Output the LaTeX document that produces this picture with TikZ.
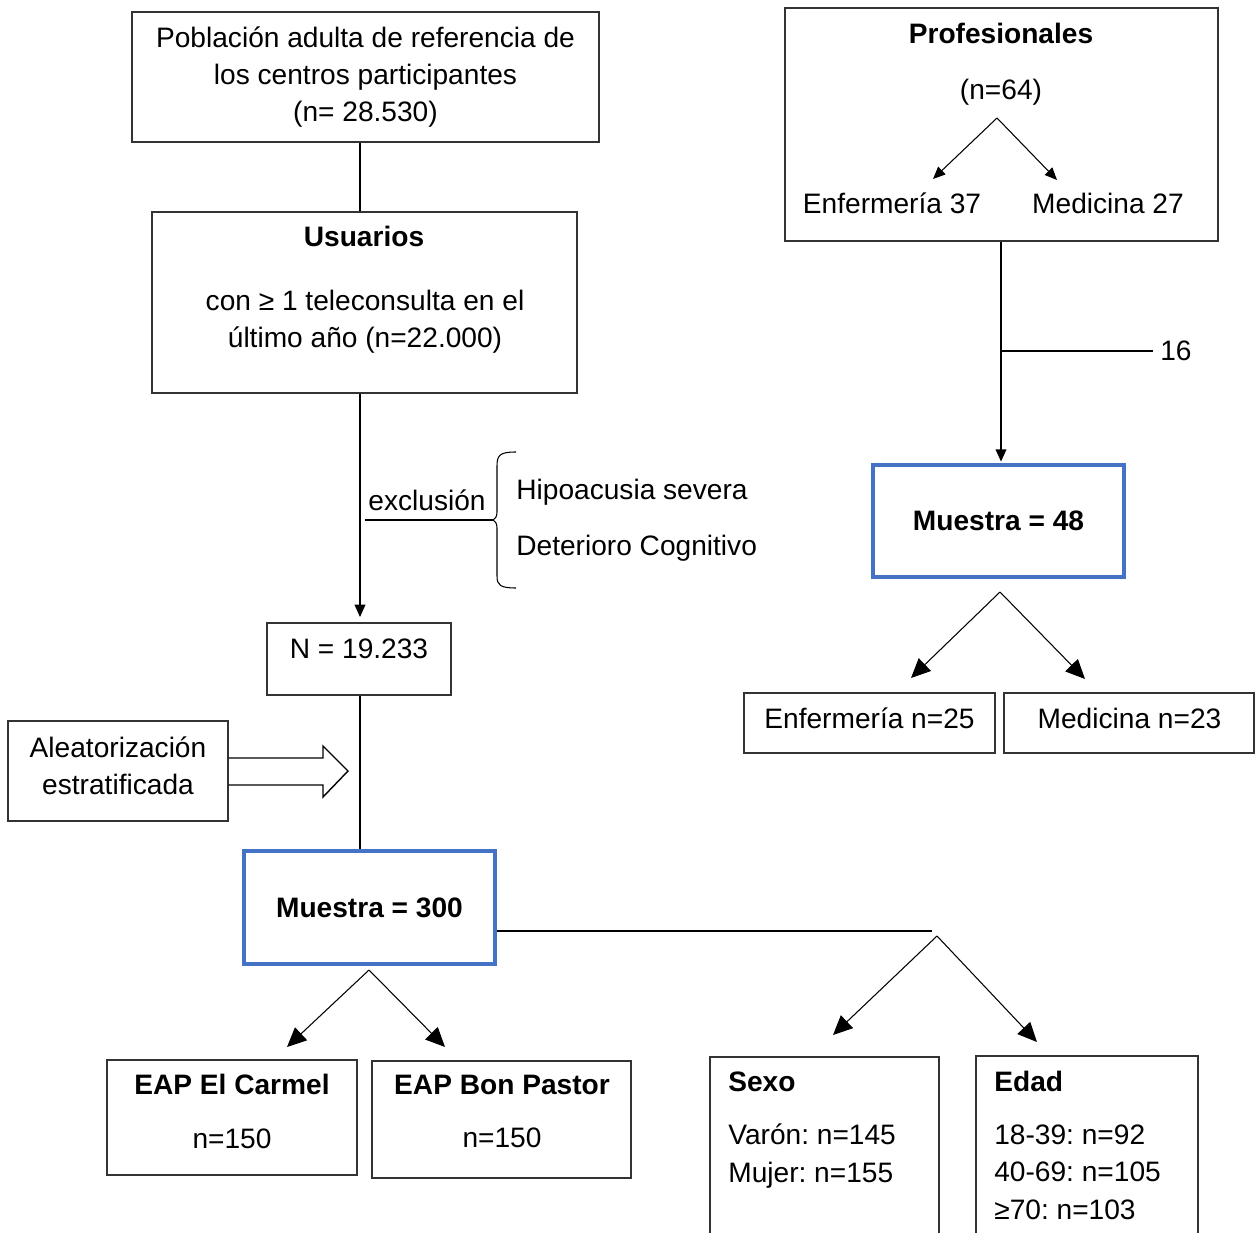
\documentclass[tikz,border=0pt]{standalone}
\usepackage{fontspec}
\setmainfont{Liberation Sans}
\usetikzlibrary{arrows.meta, positioning, calc}

\definecolor{azul}{RGB}{68,114,196}

\begin{document}
\frenchspacing
\fontsize{16}{21.3}\selectfont
\begin{tikzpicture}[x=0.02cm, y=-0.02cm, line join=miter,
    caja/.style 2 args={draw=black!80, line width=0.8pt, inner sep=0pt, align=center,
      minimum width=#1*0.02cm, minimum height=#2*0.02cm},
    muestra/.style 2 args={draw=azul, line width=1.8pt, inner sep=0pt, font=\bfseries,
      minimum width=#1*0.02cm, minimum height=#2*0.02cm},
    texto/.style={inner sep=0pt, align=center},
    linea/.style={line width=1.1pt},
    baja/.style={line width=1.1pt, -{Triangle[length=7pt, width=6pt]}},
    rama/.style={line width=0.6pt, -{Triangle[length=11pt, width=10pt]}},
    ramita/.style={line width=0.6pt, -{Triangle[length=7pt, width=6pt]}}]
  \useasboundingbox (0,0) rectangle (1255,1233);
  \clip (0,0) rectangle (1255,1233);

  % usuarios
  \node[caja={467}{130}] (pob) at (365.5,77) {Población adulta de referencia de\\los centros participantes\\(n= 28.530)};
  \node[caja={425}{181}] (usu) at (364.5,302.5) {};
  \node[texto, font=\bfseries] (usutit) at (364,236) {Usuarios};
  \node[texto] (usutxt) at (365,322) {con ≥ 1 teleconsulta en el\\último año (n=22.000)};
  \node[caja={184}{72}] (total) at (359,659) {};
  \node[texto] (totaltxt) at (359,649) {N = 19.233};
  \node[caja={220}{100}] (alea) at (118,771) {};
  \node[texto] (aleatxt) at (118,766) {Aleatorización\\estratificada};
  \node[muestra={251}{113}] (m300) at (369.5,907.5) {Muestra = 300};
  \node[caja={250}{115}] (carmel) at (232,1117.5) {};
  \node[texto] (carmeltxt) at (232,1111.5) {\textbf{EAP El Carmel}\\[9pt]n=150};
  \node[caja={259}{117}] (bonpastor) at (501.5,1119.5) {};
  \node[texto] (bonpastortxt) at (502,1111.5) {\textbf{EAP Bon Pastor}\\[9pt]n=150};
  \node[caja={229}{193}] (sexo) at (824.5,1153.5) {};
  \node[caja={222}{194}] (edad) at (1087,1153) {};
  \node[texto, align=left, anchor=west] (sexotxt) at (728,1130) {\textbf{Sexo}\\[9pt]Varón: n=145\\Mujer: n=155};
  \node[texto, align=left, anchor=west] (edadtxt) at (994,1145) {\textbf{Edad}\\[9pt]18-39: n=92\\40-69: n=105\\≥70: n=103};

  \coordinate (eje) at (360,0);
  \draw[linea] (pob.south -| eje) -- (usu.north -| eje);
  \draw[baja, shorten >=3pt] (usu.south -| eje) -- (total.north -| eje);
  \draw[linea] (total.south -| eje) -- (m300.north -| eje);

  % exclusion
  \coordinate (excl) at (365,520);
  \coordinate (llave) at (493,520);
  \draw[line width=0.8pt] (excl) -- (llave);
  \draw[line width=0.6pt] (516,452) .. controls (500,452) and (497,455) .. (497,466) -- (497,512)
    .. controls (497,517) and (495,519) .. (llave) .. controls (495,521) and (497,523) .. (497,528)
    -- (497,576) .. controls (497,585) and (500,588) .. (516,588);
  \node[texto] (excltxt) at (427,500) {exclusión};
  \node[texto, anchor=west] (hipo) at (516,492) {Hipoacusia severa};
  \node[texto, anchor=west] (deter) at (516,548) {Deterioro Cognitivo};

  \draw[line width=0.8pt] (alea.east |- 0,758) -- (323,758) -- (323,746) -- (348,771)
    -- (323,797) -- (323,785) -- (alea.east |- 0,785);

  \coordinate (pico300) at (369,970);
  \draw[rama] (pico300) -- (287,1047);
  \draw[rama] (pico300) -- (445,1047);

  \coordinate (cruce) at (932,931);
  \coordinate (pico) at (937,936);
  \draw[line width=1pt] (m300.east |- cruce) -- (cruce);
  \draw[rama] (pico) -- (833,1035);
  \draw[rama] (pico) -- (1037,1042);

  % profesionales
  \node[caja={433}{233}] (prof) at (1001.5,124.5) {};
  \node[texto, font=\bfseries] (proftit) at (1001,33) {Profesionales};
  \node[texto] (profn) at (1001,92) {(n=64)};
  \node[texto] (enf37) at (892,203) {Enfermería 37};
  \node[texto] (med27) at (1108,203) {Medicina 27};
  \coordinate (picoprof) at (997,118);
  \draw[ramita] (picoprof) -- (933,179);
  \draw[ramita] (picoprof) -- (1057,180);

  \node[muestra={251}{112}] (m48) at (998.5,521) {Muestra = 48};
  \coordinate (ejeprof) at (1001,0);
  \draw[baja, shorten >=1pt] (prof.south -| ejeprof) -- (m48.north -| ejeprof);
  \coordinate (salida) at (1153,351);
  \draw[linea] (ejeprof |- salida) -- (salida);
  \node[texto, anchor=west] (bajas) at (1160,351) {16};

  \node[caja={251}{60}] (enf25) at (869.5,723) {};
  \node[texto] (enf25txt) at (869.5,718) {Enfermería n=25};
  \node[caja={250}{60}] (med23) at (1129,723) {};
  \node[texto] (med23txt) at (1129.5,718) {Medicina n=23};
  \coordinate (pico48) at (1000,592);
  \draw[rama] (pico48) -- (911,678);
  \draw[rama] (pico48) -- (1085,679);
\end{tikzpicture}
\end{document}
